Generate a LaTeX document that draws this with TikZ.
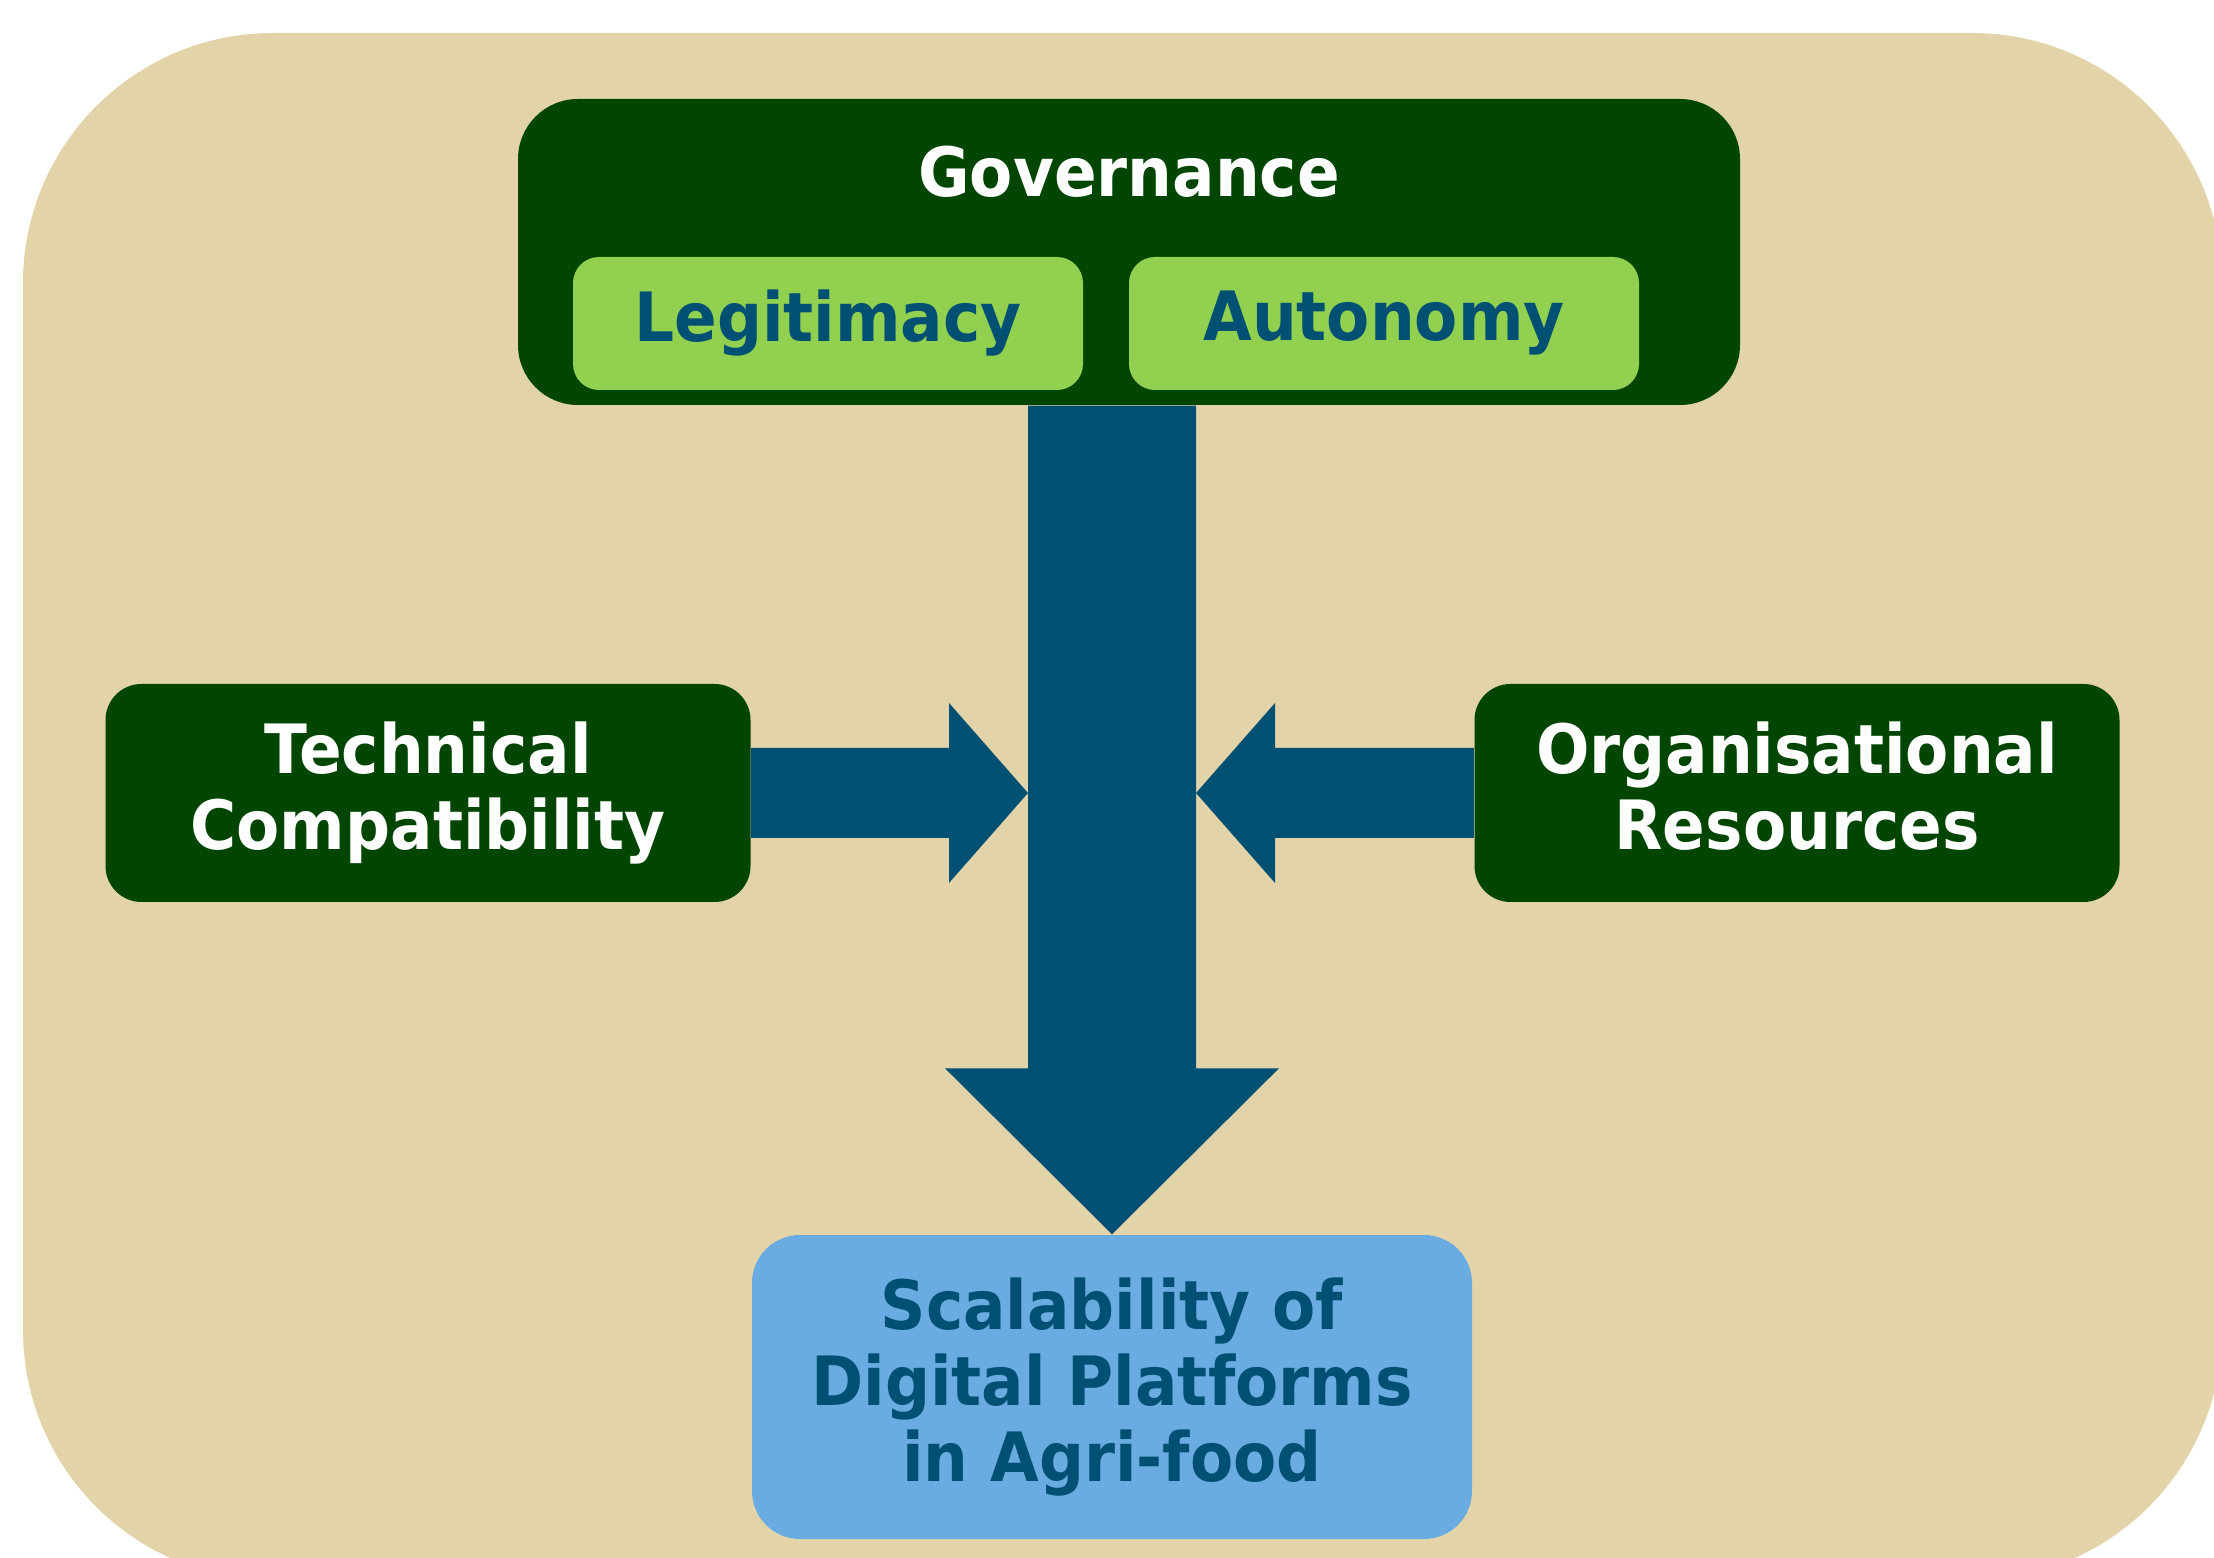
\documentclass[tikz,border=0pt]{standalone}
\usepackage{fontspec}
\setmainfont{DejaVu Sans}[FakeStretch=0.925]
\usetikzlibrary{calc}
\definecolor{bgbeige}{RGB}{226,212,168}
\definecolor{dkgreen}{RGB}{0,69,0}
\definecolor{ltgreen}{RGB}{146,208,80}
\definecolor{arrowblue}{RGB}{0,80,115}
\definecolor{ltblue}{RGB}{106,171,225}
\tikzset{
  txt/.style={font=\fontsize{19.35pt}{21.6pt}\selectfont\bfseries, align=center},
  darkbox/.style={fill=dkgreen, draw=none, inner sep=0pt},
  subbox/.style={fill=ltgreen, draw=none, inner sep=0pt, rounded corners=2.6mm, minimum width=51mm, minimum height=13.3mm, text=arrowblue, txt},
  sidebox/.style={darkbox, rounded corners=3.6mm, minimum width=64.5mm, minimum height=21.8mm, text=white, txt},
  bigarrow/.style={fill=arrowblue, draw=none},
}
\begin{document}
\begin{tikzpicture}[x=0.1mm, y=-0.1mm]
\useasboundingbox (0,0) rectangle (2214,1558);
\begin{scope}
\clip (0,0) rectangle (2214,1558);
\fill[bgbeige, rounded corners=25mm] (23,33) rectangle (2222,1580);
\end{scope}
% governance
\node[darkbox, rounded corners=6mm, minimum width=122.2mm, minimum height=30.6mm] (gov) at (1129,252) {};
\node[txt, text=white, anchor=base] (govlabel) at (1129,197) {Governance};
\node[subbox] (legit) at (828,323.5) {Legitimacy};
\node[subbox] (auto) at (1384,323.5) {Autonomy};
% sides
\node[sidebox] (tech) at (428,793) {Technical\\Compatibility};
\node[sidebox] (org) at (1797,793) {Organisational\\Resources\vphantom{y}};
% target
\node[fill=ltblue, draw=none, inner sep=0pt, rounded corners=4.8mm, minimum width=72mm, minimum height=30.4mm, text=arrowblue, txt] (scal) at (1112,1387) {Scalability of\\Digital Platforms\\in Agri-food};
% arrows
\path (scal.north) ++(-84,0) coordinate (sl);
\path (scal.north) ++(84,0) coordinate (sr);
\coordinate (Ltip) at (sl |- tech.east);
\coordinate (Rtip) at (sr |- org.west);
\fill[bigarrow] (sl |- gov.south) -- (sr |- gov.south) -- ($(sr)+(0,-166)$) -- ++(83,0) -- (scal.north) -- ++(-167,-166) -- ++(83,0) -- cycle;
\fill[bigarrow] ($(tech.east)+(0,-45)$) -- ($(Ltip)+(-79,-45)$) -- ++(0,-45) -- (Ltip) -- ++(-79,90) -- ++(0,-45) -- ($(tech.east)+(0,45)$) -- cycle;
\fill[bigarrow] ($(org.west)+(0,-45)$) -- ($(Rtip)+(79,-45)$) -- ++(0,-45) -- (Rtip) -- ++(79,90) -- ++(0,-45) -- ($(org.west)+(0,45)$) -- cycle;
\end{tikzpicture}
\end{document}
